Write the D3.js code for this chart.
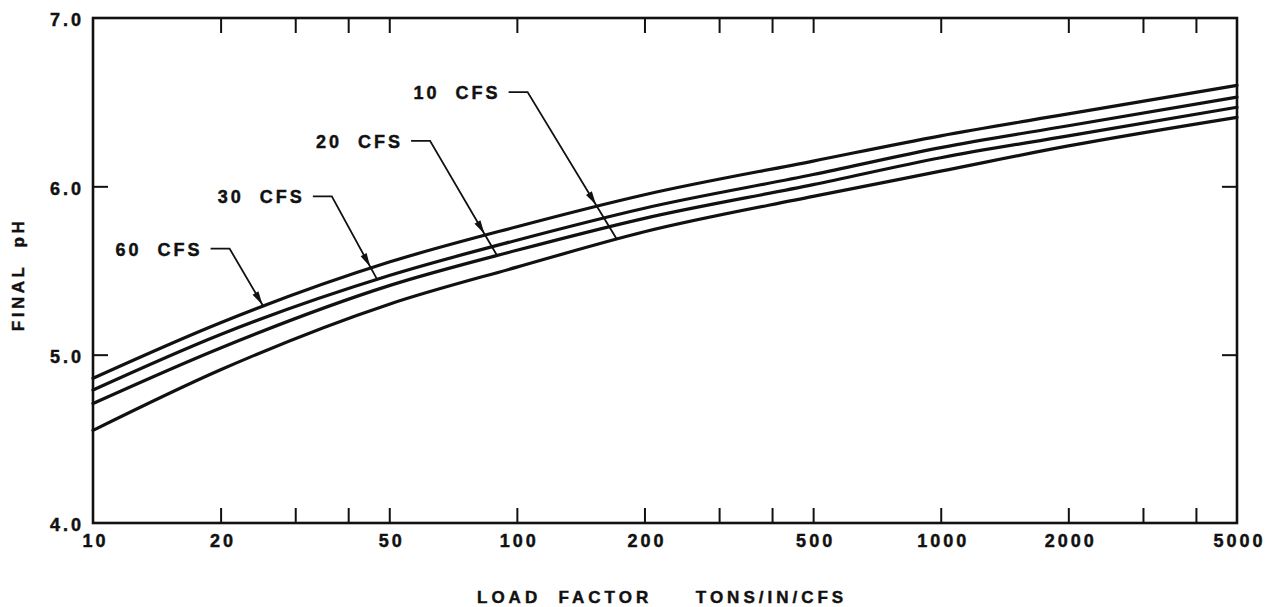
<!DOCTYPE html>
<html>
<head>
<meta charset="utf-8">
<script src="https://cdn.jsdelivr.net/npm/d3@7"></script>
<style>
  body { margin: 0; background: #fff; }
  text { font-family: "Liberation Sans", Arial, sans-serif; font-weight: bold; fill: #111; stroke: #111; stroke-width: 0.45px; }
</style>
</head>
<body>
<svg id="chart" width="1280" height="607"></svg>
<script>
// Load factor (tons/in/cfs) sample points shared by every curve
const loadFactor = [10, 20, 50, 100, 200, 500, 1000, 2000, 5000];
// Final pH for each flow rate
const ph60 = [4.86, 5.19, 5.55, 5.76, 5.95, 6.15, 6.30, 6.43, 6.60];
const ph30 = [4.79, 5.12, 5.47, 5.68, 5.87, 6.07, 6.23, 6.36, 6.53];
const ph20 = [4.71, 5.04, 5.41, 5.62, 5.81, 6.01, 6.17, 6.30, 6.47];
const ph10 = [4.55, 4.91, 5.30, 5.52, 5.73, 5.94, 6.09, 6.24, 6.41];
const flowLabels = ["60 CFS", "30 CFS", "20 CFS", "10 CFS"];

// Axis ticks
const xTickValues = [20, 30, 40, 50, 100, 200, 300, 400, 500, 1000, 2000, 3000, 4000];
const xTickLabels = [10, 20, 50, 100, 200, 500, 1000, 2000, 5000];
const yTickValues = [4, 5, 6, 7];
const yInnerTicks = [5, 6];

// Callouts: elbow of each leader (load, pH) and the load where it meets its curve
const calloutElbowLoad = [21.0, 36.6, 62.4, 106];
const calloutElbowPH = [5.63, 5.94, 6.27, 6.56];
const calloutTargetLoad = [25.2, 46.8, 89.8, 172];

const series = [ph60, ph30, ph20, ph10].map((vals, i) => ({
  name: flowLabels[i],
  points: loadFactor.map((lf, j) => ({ lf, ph: vals[j] }))
}));

const W = 1280, H = 607;
const margin = { left: 93, right: 43, top: 18, bottom: 84 };
const svg = d3.select("#chart");

const x = d3.scaleLog().domain([10, 5000]).range([margin.left, W - margin.right]);
const y = d3.scaleLinear().domain([4, 7]).range([H - margin.bottom, margin.top]);

const ink = "#111";
const fontSize = 18;

// Curves
const line = d3.line().x(d => x(d.lf)).y(d => y(d.ph)).curve(d3.curveMonotoneX);
const curvePaths = svg.append("g").selectAll("path")
  .data(series).join("path")
  .attr("d", d => line(d.points))
  .attr("fill", "none")
  .attr("stroke", ink)
  .attr("stroke-width", 3.2)
  .attr("stroke-linecap", "round")
  .nodes();

// Tick marks (inward on all four sides)
function styleTicks(g) {
  g.select(".domain").remove();
  g.selectAll(".tick line").attr("stroke", ink).attr("stroke-width", 2);
  g.selectAll(".tick text").remove();
}
svg.append("g").attr("transform", `translate(0,${y(4)})`)
  .call(d3.axisBottom(x).tickValues(xTickValues).tickSize(-15)).call(styleTicks);
svg.append("g").attr("transform", `translate(0,${y(7)})`)
  .call(d3.axisTop(x).tickValues(xTickValues).tickSize(-15)).call(styleTicks);
svg.append("g").attr("transform", `translate(${x(10)},0)`)
  .call(d3.axisLeft(y).tickValues(yInnerTicks).tickSize(-15)).call(styleTicks);
svg.append("g").attr("transform", `translate(${x(5000)},0)`)
  .call(d3.axisRight(y).tickValues(yInnerTicks).tickSize(-15)).call(styleTicks);

// Tick labels
function styleLabels(g) {
  g.select(".domain").remove();
  g.selectAll(".tick line").remove();
  g.attr("font-family", null).attr("font-size", null);
  g.selectAll(".tick text")
    .attr("font-size", fontSize)
    .attr("letter-spacing", 3)
    .attr("fill", ink);
}
svg.append("g").attr("transform", `translate(2,${y(4)})`)
  .call(d3.axisBottom(x).tickValues(xTickLabels).tickSize(0).tickPadding(11)
    .tickFormat(d3.format("d")))
  .call(styleLabels);
svg.append("g").attr("transform", `translate(${x(10) + 1},2)`)
  .call(d3.axisLeft(y).tickValues(yTickValues).tickSize(0).tickPadding(10)
    .tickFormat(d3.format(".1f")))
  .call(styleLabels);

// Frame
svg.append("rect")
  .attr("x", x(10)).attr("y", y(7))
  .attr("width", x(5000) - x(10)).attr("height", y(4) - y(7))
  .attr("fill", "none").attr("stroke", ink).attr("stroke-width", 2.6);

// Axis titles
svg.append("text")
  .attr("x", 477).attr("y", 603)
  .attr("font-size", fontSize - 1)
  .attr("letter-spacing", 4)
  .style("white-space", "pre")
  .text("LOAD  FACTOR     TONS/IN/CFS");
svg.append("text")
  .attr("transform", `translate(24,${(y(4) + y(7)) / 2 + 4}) rotate(-90)`)
  .attr("text-anchor", "middle")
  .attr("font-size", fontSize - 1)
  .attr("letter-spacing", 3.5)
  .style("white-space", "pre")
  .text("FINAL  pH");

// Find the y of a drawn curve at a given pixel x
function yOnPath(path, px) {
  let lo = 0, hi = path.getTotalLength();
  for (let k = 0; k < 40; k++) {
    const mid = (lo + hi) / 2;
    if (path.getPointAtLength(mid).x < px) lo = mid; else hi = mid;
  }
  return path.getPointAtLength((lo + hi) / 2).y;
}

// Callouts with leaders and arrowheads
const topPath = curvePaths[0];
const gCall = svg.append("g");
flowLabels.forEach((label, i) => {
  const ex = x(calloutElbowLoad[i]), ey = y(calloutElbowPH[i]);
  const tx = x(calloutTargetLoad[i]);
  const ty = yOnPath(curvePaths[i], tx);
  const sx = ex - 19;

  gCall.append("path")
    .attr("d", `M${sx},${ey}L${ex},${ey}L${tx},${ty}`)
    .attr("fill", "none").attr("stroke", ink).attr("stroke-width", 1.8);

  // arrow tip where the leader reaches the uppermost curve
  const g = t => {
    const px = ex + t * (tx - ex), py = ey + t * (ty - ey);
    return py - yOnPath(topPath, px);
  };
  let lo = 0, hi = 1;
  for (let k = 0; k < 30; k++) {
    const mid = (lo + hi) / 2;
    if (g(mid) < -1.2) lo = mid; else hi = mid;
  }
  const t = (lo + hi) / 2;
  const px = ex + t * (tx - ex), py = ey + t * (ty - ey);
  const len = Math.hypot(tx - ex, ty - ey);
  const ux = (tx - ex) / len, uy = (ty - ey) / len;
  const L = 14, hw = 3.4;
  const bx = px - ux * L, by = py - uy * L;
  gCall.append("path")
    .attr("d", `M${px},${py}L${bx - uy * hw},${by + ux * hw}L${bx + uy * hw},${by - ux * hw}Z`)
    .attr("fill", ink);

  gCall.append("text")
    .attr("x", sx - 8).attr("y", ey + 7)
    .attr("text-anchor", "end")
    .attr("font-size", fontSize)
    .attr("letter-spacing", 3)
    .style("white-space", "pre")
    .text(label.replace(" ", "  "));
});
</script>
</body>
</html>
